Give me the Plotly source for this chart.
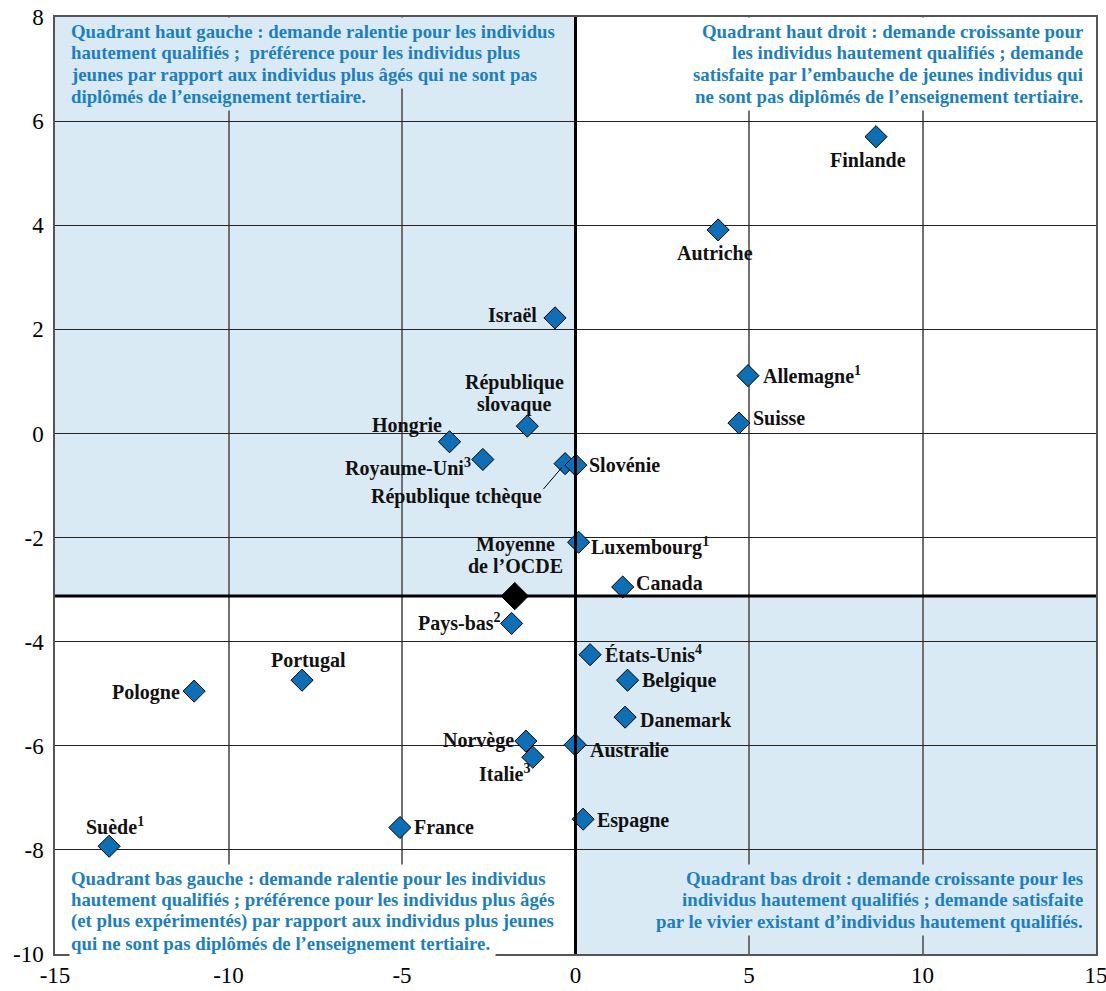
import plotly.graph_objects as go

# ---------------- data ----------------
countries = ["Finlande", "Autriche", "Israël", "Allemagne<sup>1</sup>", "Suisse",
             "République<br>slovaque", "Hongrie", "Royaume-Uni<sup>3</sup>",
             "République tchèque", "Slovénie", "Luxembourg<sup>1</sup>", "Canada",
             "Pays-bas<sup>2</sup>", "États-Unis<sup>4</sup>", "Belgique", "Danemark",
             "Pologne", "Portugal", "Norvège", "Italie<sup>3</sup>", "Australie",
             "Espagne", "France", "Suède<sup>1</sup>"]
x_vals = [8.66, 4.11, -0.59, 4.97, 4.71,
          -1.39, -3.63, -2.67,
          -0.30, 0.01, 0.09, 1.36,
          -1.84, 0.42, 1.50, 1.43,
          -10.99, -7.88, -1.43, -1.23, -0.01,
          0.22, -5.06, -13.44]
y_vals = [5.70, 3.91, 2.22, 1.11, 0.20,
          0.14, -0.16, -0.50,
          -0.58, -0.61, -2.09, -2.95,
          -3.65, -4.25, -4.74, -5.45,
          -4.95, -4.74, -5.91, -6.22, -5.98,
          -7.41, -7.57, -7.93]

oecd_label = "Moyenne<br>de l’OCDE"
oecd_x = -1.75
oecd_y = -3.125

x_ticks = [-15, -10, -5, 0, 5, 10, 15]
x_tick_labels = ["-15", "-10", "-5", "0", "5", "10", "15"]
y_ticks = [-10, -8, -6, -4, -2, 0, 2, 4, 6, 8]
y_tick_labels = ["-10", "-8", "-6", "-4", "-2", "0", "2", "4", "6", "8"]

quad_texts = {
    "tl": "Quadrant haut gauche : demande ralentie pour les individus<br>"
          "hautement qualifiés ;  préférence pour les individus plus<br>"
          "jeunes par rapport aux individus plus âgés qui ne sont pas<br>"
          "diplômés de l’enseignement tertiaire.",
    "tr": "Quadrant haut droit : demande croissante pour<br>"
          "les individus hautement qualifiés ; demande<br>"
          "satisfaite par l’embauche de jeunes individus qui<br>"
          "ne sont pas diplômés de l’enseignement tertiaire.",
    "bl": "Quadrant bas gauche : demande ralentie pour les individus<br>"
          "hautement qualifiés ; préférence pour les individus plus âgés<br>"
          "(et plus expérimentés) par rapport aux individus plus jeunes<br>"
          "qui ne sont pas diplômés de l’enseignement tertiaire.",
    "br": "Quadrant bas droit : demande croissante pour les<br>"
          "individus hautement qualifiés ; demande satisfaite<br>"
          "par le vivier existant d’individus hautement qualifiés.",
}

# ---------------- styles ----------------
FONT = "Liberation Serif"
BLUE_TXT = "#1a80c2"
BLUE_MK = "#0d6fb5"
SHADE = "#daeaf4"
XMIN, XMAX, YMIN, YMAX = -15, 15, -10, 8
LAB_SIZE = 20
LAB_LINE = 22
Q_SIZE = 18.8
Q_LINE = 21.7

# label placement: (xanchor, xshift, yshift of block centre)
label_pos = {
    "Finlande": ("center", -8, -23),
    "Autriche": ("center", -3, -23),
    "Israël": ("right", -16, 3),
    "Allemagne<sup>1</sup>": ("left", 13, 0),
    "Suisse": ("left", 12, 5),
    "République<br>slovaque": ("center", -13, 33),
    "Hongrie": ("center", -43, 16),
    "Royaume-Uni<sup>3</sup>": ("right", -10, -8),
    "République tchèque": ("center", -109, -33),
    "Slovénie": ("left", 11, 0),
    "Luxembourg<sup>1</sup>": ("left", 10, -4),
    "Canada": ("left", 11, 4),
    "Pays-bas<sup>2</sup>": ("right", -9, 1),
    "États-Unis<sup>4</sup>": ("left", 13, 1),
    "Belgique": ("left", 12, 0),
    "Danemark": ("left", 13, -3),
    "Pologne": ("right", -12, -1),
    "Portugal": ("center", 6, 20),
    "Norvège": ("right", -10, 1),
    "Italie<sup>3</sup>": ("center", -28, -16),
    "Australie": ("left", 13, -5),
    "Espagne": ("left", 12, -1),
    "France": ("left", 12, 1),
    "Suède<sup>1</sup>": ("center", 6, 20),
}

fig = go.Figure()

fig.add_trace(go.Scatter(
    x=x_vals, y=y_vals, mode="markers",
    marker=dict(symbol="diamond", size=17, color=BLUE_MK,
                line=dict(color="black", width=1)),
    hoverinfo="skip", showlegend=False, cliponaxis=False))
fig.add_trace(go.Scatter(
    x=[oecd_x], y=[oecd_y], mode="markers",
    marker=dict(symbol="diamond", size=21, color="black",
                line=dict(color="black", width=1)),
    hoverinfo="skip", showlegend=False, cliponaxis=False))

shapes = [
    dict(type="rect", xref="x", yref="y", x0=XMIN, x1=0, y0=oecd_y, y1=YMAX,
         fillcolor=SHADE, line=dict(width=0), layer="below"),
    dict(type="rect", xref="x", yref="y", x0=0, x1=XMAX, y0=YMIN, y1=oecd_y,
         fillcolor=SHADE, line=dict(width=0), layer="below"),
    dict(type="line", xref="paper", yref="y", x0=0, x1=1, y0=oecd_y, y1=oecd_y,
         line=dict(color="black", width=3), layer="above"),
    dict(type="line", xref="x", yref="paper", x0=0, x1=0, y0=0, y1=1,
         line=dict(color="black", width=3), layer="above"),
]

bg_annots = []
fg_annots = []
lab_font = dict(family=FONT, size=LAB_SIZE, color="#111111")


def add_label(text, xv, yv, xa, xs, ys):
    lines = text.split("<br>")
    n = len(lines)
    for i, ln in enumerate(lines):
        fg_annots.append(dict(
            x=xv, y=yv, xref="x", yref="y", text="<b>" + ln + "</b>",
            showarrow=False, xanchor=xa, yanchor="middle", xshift=xs,
            yshift=ys + (n - 1) / 2 * LAB_LINE - i * LAB_LINE,
            font=lab_font, align="center"))


for name, xv, yv in zip(countries, x_vals, y_vals):
    xa, xs, ys = label_pos[name]
    add_label(name, xv, yv, xa, xs, ys)

add_label(oecd_label, oecd_x, oecd_y, "center", 1, 41)

# leader line for République tchèque
i_cz = countries.index("République tchèque")
fg_annots.append(dict(
    x=x_vals[i_cz], y=y_vals[i_cz], xref="x", yref="y", text="",
    showarrow=True, arrowhead=0, arrowwidth=1, arrowcolor="black",
    ax=-23, ay=27, standoff=5))


def add_quad(key, xv, yv, xa, xs, first_ys, step, bg):
    lines = quad_texts[key].split("<br>")
    for i, ln in enumerate(lines):
        common = dict(x=xv, y=yv, xref="x", yref="y", showarrow=False,
                      xanchor=xa, yanchor="middle", xshift=xs,
                      yshift=first_ys + i * step, align=xa)
        # background box (text drawn in box colour, hidden under the real text)
        bg_annots.append(dict(text="<b>" + ln + "</b>", bgcolor=bg, borderpad=3,
                              font=dict(family=FONT, size=Q_SIZE, color=bg),
                              **common))
        fg_annots.append(dict(text="<b>" + ln + "</b>",
                              font=dict(family=FONT, size=Q_SIZE, color=BLUE_TXT),
                              **common))


add_quad("tl", XMIN, YMAX, "left", 14, -14, -Q_LINE, SHADE)
add_quad("tr", XMAX, YMAX, "right", -11, -14, -Q_LINE, "white")
add_quad("bl", XMIN, YMIN, "left", 14, 76, -Q_LINE, "white")
add_quad("br", XMAX, YMIN, "right", -11, 76, -Q_LINE, SHADE)

fig.update_layout(
    width=1106, height=991,
    margin=dict(l=55, r=10, t=17, b=37, autoexpand=False),
    paper_bgcolor="white", plot_bgcolor="white",
    shapes=shapes, annotations=bg_annots + fg_annots, showlegend=False,
    font=dict(family=FONT, color="black"),
)
fig.update_xaxes(
    range=[XMIN, XMAX], tickvals=x_ticks, ticktext=x_tick_labels,
    showgrid=True, gridcolor="#707070", gridwidth=1.5, zeroline=False,
    showline=True, linecolor="#555555", linewidth=1.5, mirror=True,
    ticks="", automargin=False, ticklabelstandoff=0, ticklabeloverflow="allow",
    tickfont=dict(family=FONT, size=23, color="black"),
    layer="below traces")
fig.update_yaxes(
    range=[YMIN, YMAX], tickvals=y_ticks, ticktext=y_tick_labels,
    showgrid=True, gridcolor="#222222", gridwidth=1, zeroline=False,
    showline=True, linecolor="#555555", linewidth=1.5, mirror=True,
    ticks="", automargin=False, ticklabelstandoff=5, ticklabeloverflow="allow",
    tickfont=dict(family=FONT, size=23, color="black"),
    layer="below traces")

# remove the default 8px page margin so the figure fills the window exactly
fig.write_html("out.html", config={"displayModeBar": False},
               post_script="document.body.style.margin='0';document.body.style.overflow='hidden';")
